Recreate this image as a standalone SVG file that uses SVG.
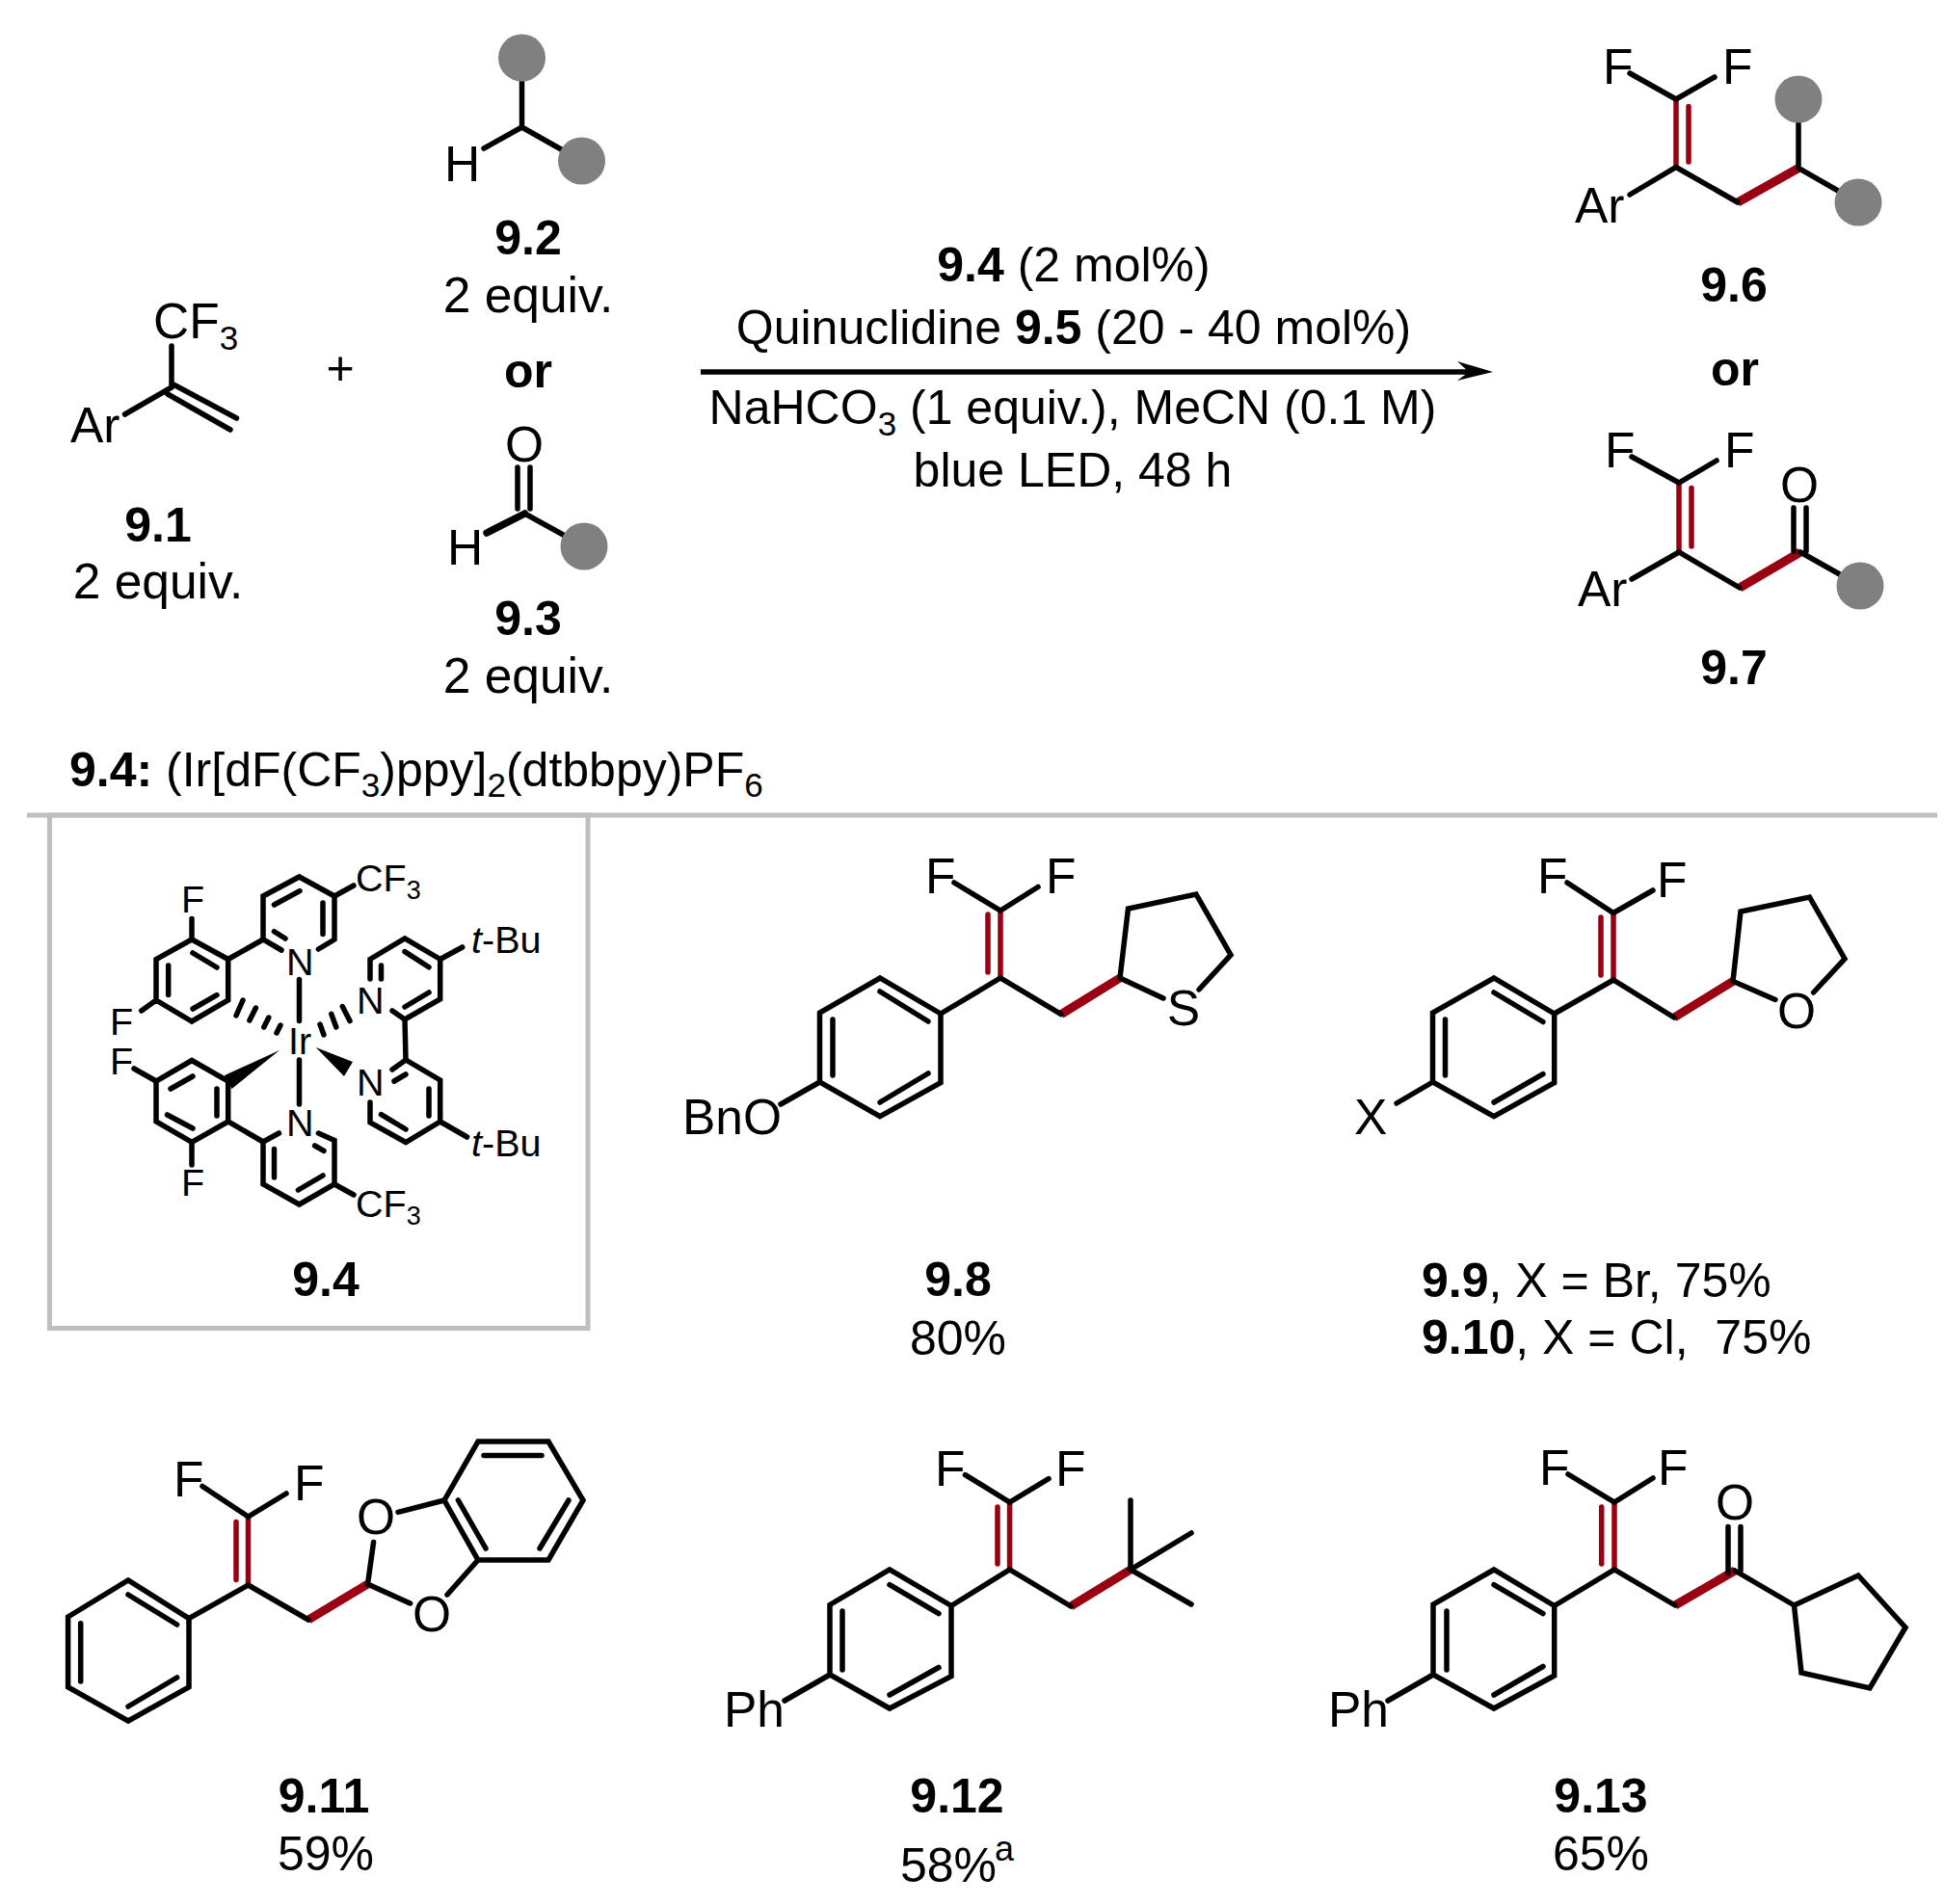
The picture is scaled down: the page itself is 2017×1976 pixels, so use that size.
<svg xmlns="http://www.w3.org/2000/svg" width="2017" height="1976" viewBox="0 0 2017 1976">
<style>
text{font-family:"Liberation Sans",Arial,sans-serif;font-size:50px;fill:#000}
.a{font-size:51.5px}
.e{font-size:51.5px}
.s{font-size:39.5px}
.m{text-anchor:middle}
.h{font-weight:bold}
.u{font-size:35px}
.us{font-size:27px}
.b{fill:none;stroke:#000;stroke-width:5.5;stroke-linecap:round;stroke-linejoin:miter}
.r{fill:none;stroke:#990011;stroke-width:5.5;stroke-linecap:round}
.t{fill:none;stroke:#990011;stroke-width:9;stroke-linecap:butt}
.d{fill:#808080}
.w{fill:#000}
.g{fill:none;stroke:#bfbfbf;stroke-width:5}
</style>
<rect width="2017" height="1976" fill="#fff"/>
<g id="connectors">
<path d="M727 386H1525" fill="none" stroke="#000" stroke-width="5.5"/>
<path class="w" d="M1549 386L1512 375L1524 386L1512 395Z"/>
<path class="g" d="M28 846H2010"/>
</g>
<g id="n91">
<path class="b" d="M178 359V402M129.500 430L178 402M178 398L245.500 434M174 409L239 446"/>
<text class="a" x="159" y="351">CF<tspan class="u" dy="12">3</tspan></text>
<text class="a" x="73" y="459">Ar</text>
<text x="164" y="562" class="m h">9.1</text>
<text x="164" y="621" class="m e">2 equiv.</text>
</g>
<text id="plus" x="353" y="399" class="m">+</text>
<g id="n92">
<path class="b" d="M541.500 60V132M502 154L541.500 132L603.500 167"/>
<circle class="d" cx="541.500" cy="60" r="24.500"/>
<circle class="d" cx="603.500" cy="167" r="24.500"/>
<text class="a" x="461" y="188">H</text>
<text x="548" y="264" class="m h">9.2</text>
<text x="548" y="324" class="m e">2 equiv.</text>
</g>
<text id="or1" x="548" y="402" class="m h">or</text>
<g id="n93">
<path class="b" d="M537 485V528M550 485V528M544.500 533L606 567"/>
<path class="b" style="stroke-width:7.500" d="M505 553L544.500 533"/>
<circle class="d" cx="606" cy="567" r="24.500"/>
<text x="544" y="479" class="m a">O</text>
<text class="a" x="464" y="586">H</text>
<text x="548" y="659" class="m h">9.3</text>
<text x="548" y="719" class="m e">2 equiv.</text>
</g>
<g id="conditions">
<text x="1114" y="292" class="m"><tspan class="h">9.4</tspan> (2 mol%)</text>
<text x="1114" y="357" class="m">Quinuclidine <tspan class="h">9.5</tspan> (20 - 40 mol%)</text>
<text x="1113" y="440" class="m">NaHCO<tspan class="u" dy="12">3</tspan><tspan dy="-12"> (1 equiv.), MeCN (0.1 M)</tspan></text>
<text x="1113" y="505" class="m">blue LED, 48 h</text>
</g>
<g id="n96">
<path class="r" d="M1739 103V173.500M1752 110.500V168"/>
<path class="t" d="M1803 210L1866 174.500"/>
<path class="b" d="M1691 76L1739 103L1779 80M1691 202L1739 173.500L1803 210M1866 103V174.500L1928 210"/>
<circle class="d" cx="1866" cy="103" r="24.500"/>
<circle class="d" cx="1928" cy="210" r="24.500"/>
<text class="a" x="1663" y="87">F</text>
<text class="a" x="1787" y="87">F</text>
<text class="a" x="1634" y="231">Ar</text>
<text x="1799" y="313" class="m h">9.6</text>
</g>
<text id="or2" x="1800" y="400" class="m h">or</text>
<g id="n97">
<path class="r" d="M1742 501V573M1755 506.500V567"/>
<path class="t" d="M1805 610L1868 573"/>
<path class="b" d="M1693 474L1742 501L1781 478M1693 601L1742 573L1805 610M1861 527V572M1874 527V572M1868 573L1930 608"/>
<circle class="d" cx="1930" cy="608" r="24.500"/>
<text class="a" x="1665" y="485">F</text>
<text class="a" x="1789" y="485">F</text>
<text class="a" x="1637" y="629">Ar</text>
<text x="1867" y="521" class="m a">O</text>
<text x="1799" y="710" class="m h">9.7</text>
</g>
<text id="header" x="72" y="816"><tspan class="h">9.4:</tspan> (Ir[dF(CF<tspan class="u" dy="11">3</tspan><tspan dy="-11">)ppy]</tspan><tspan class="u" dy="11">2</tspan><tspan dy="-11">(dtbbpy)PF</tspan><tspan class="u" dy="11">6</tspan></text>
<g id="n94">
<rect class="g" x="51.500" y="846" width="558.500" height="532.500"/>
<path class="b" d="M292 986L273 975V930L310.500 910L347 930V975L330.400 985M284.500 939L311 924.600M335 937V969.600M284.500 966.700L296 974"/>
<path class="b" d="M273 975L236.700 995.500L199 975L162 995.500V1038L199 1060L236.700 1038V995.500M200 989L225 1004M174.700 1002V1032.600M200 1047L225 1032.600M199 953.400V975M162 1038L146.700 1049M347 930L367 919"/>
<path class="b" d="M310.500 1016.400V1059.600M310.500 1100V1146"/>
<path class="b" d="M252 1038L245 1054M265.400 1046L258.900 1059M278.800 1056L273.800 1066M291 1064L287 1072M355.300 1044.500L363 1059.600M343.800 1052.400L348.800 1066M332 1063L336 1074"/>
<path class="w" d="M290 1090L233 1116L240.500 1130ZM327.700 1087L366 1102L357 1117Z"/>
<path class="b" d="M289.500 1176L273 1185V1229L310.500 1250L347 1229V1183.600L330.400 1176M284.500 1192.600V1222M309.400 1235L335 1220M326.600 1189L336 1194.400"/>
<path class="b" d="M273 1185L236.700 1164V1122L199 1100.500L162 1122V1164L199 1185.400L236.700 1164M177 1130L200 1117M225 1130V1158M173.500 1157L200 1171M162 1122L139 1109M199 1185.400V1209M347 1229L367 1240"/>
<path class="b" d="M384 1016V995.500L420 974L456.700 995.500V1037L420 1058L407 1049M395.500 1002V1016M420 987.600L445 1003.800M420 1045L445 1030M456.700 995.500L479.700 983M420 1058L421 1100"/>
<path class="b" d="M407 1110L421 1100L456.700 1121V1164L421 1185.500L384 1165V1144M445 1130V1158M395.500 1156.600L421 1172M409 1122L421 1115M456.700 1164L484.600 1180"/>
<text class="s" x="188" y="947">F</text>
<text class="s" x="114" y="1074">F</text>
<text class="s" x="114" y="1115">F</text>
<text class="s" x="188" y="1241">F</text>
<text class="s" x="369" y="925">CF<tspan class="us" dy="8">3</tspan></text>
<text class="s" x="369" y="1263">CF<tspan class="us" dy="8">3</tspan></text>
<text class="s" x="297" y="1012">N</text>
<text class="s" x="297" y="1179">N</text>
<text class="s" x="370" y="1052">N</text>
<text class="s" x="370" y="1137">N</text>
<text class="s" x="299" y="1094">Ir</text>
<text class="s" x="489" y="989"><tspan font-style="italic">t</tspan>-Bu</text>
<text class="s" x="489" y="1200"><tspan font-style="italic">t</tspan>-Bu</text>
<text x="338" y="1345" class="m h">9.4</text>
</g>
<g id="n98">
<path class="r" d="M1038 945V1015M1025 949V1009"/>
<path class="t" d="M1101 1052.600L1162 1015"/>
<path class="b" d="M990 916L1038 945L1077 920.500M976 1052L1038 1015L1101 1052.600"/>
<path class="b" d="M976 1052L913 1015L850.500 1051V1123L913 1158.600L976 1123.600ZM913 1029L963 1060M864 1058V1116M913 1144L963 1114M850.500 1123L810 1146"/>
<path class="b" d="M1207 1036L1162 1015L1170.500 943L1241 928L1277 991L1244 1027"/>
<text class="a" x="960" y="927">F</text>
<text class="a" x="1085" y="927">F</text>
<text class="a" x="708" y="1177">BnO</text>
<text x="1228" y="1064" class="m a">S</text>
<text x="994" y="1345" class="m h">9.8</text>
<text x="994" y="1406" class="m">80%</text>
</g>
<g id="n99">
<path class="r" d="M1674 947.500V1017M1661 952V1012"/>
<path class="t" d="M1737 1056L1798 1018.400"/>
<path class="b" d="M1626 916L1674 947.500L1715 924M1612.700 1052L1674 1017L1737 1056"/>
<path class="b" d="M1612.700 1052L1550 1015L1486.500 1051V1123L1550 1158.600L1612.700 1123.600ZM1550 1030L1601 1060.500M1499.500 1058V1116M1550 1144L1601 1114.600M1486.500 1123L1449 1145"/>
<path class="b" d="M1842 1037.500L1798 1018.400L1806 946L1877.500 931L1914 995L1881.600 1030"/>
<text class="a" x="1595" y="927">F</text>
<text class="a" x="1719" y="931">F</text>
<text class="a" x="1405" y="1177">X</text>
<text x="1864" y="1067" class="m a">O</text>
<text x="1475" y="1346"><tspan class="h">9.9</tspan>, X = Br, 75%</text>
<text x="1475" y="1405" xml:space="preserve"><tspan class="h">9.10</tspan>, X = Cl,  75%</text>
</g>
<g id="n911">
<path class="r" d="M257.500 1574V1645M245 1579.500V1639.500"/>
<path class="t" d="M320 1681L381.500 1644"/>
<path class="b" d="M210 1542.500L257.500 1574L297 1550M196 1679.600L257.500 1645L320 1681"/>
<path class="b" d="M196 1679.600L133 1640L70.600 1678V1751L133 1786L196 1751ZM133 1655L183.600 1686M83.700 1684.700V1745M133 1771L183.600 1741"/>
<path class="b" d="M387.600 1600.400L381.500 1644L425.600 1664M413 1569.400L461 1557M464 1655L496 1619"/>
<path class="b" d="M461 1557L496 1496H569L605 1557L569 1619H496ZM502 1510.400H562M475.400 1557L504 1607M590 1557L560 1607"/>
<text class="a" x="180" y="1553">F</text>
<text class="a" x="305" y="1557">F</text>
<text x="390" y="1592" class="m a">O</text>
<text x="448" y="1693" class="m a">O</text>
<text x="336" y="1881" class="m h">9.11</text>
<text x="338" y="1941" class="m">59%</text>
</g>
<g id="n912">
<path class="r" d="M1047.600 1559V1629M1035 1564V1623"/>
<path class="t" d="M1111 1667L1173 1629"/>
<path class="b" d="M1001.500 1530.700L1047.600 1559L1088 1534.700M987 1666.500L1047.600 1629L1111 1667"/>
<path class="b" d="M987 1666.500L923 1629L861 1665.500V1738L923 1773L987 1739.600ZM923 1644.600L974 1674.600M874 1672V1733M923 1759L974 1730.500M861 1738L814 1765"/>
<path class="b" d="M1173 1557V1629M1236 1591L1173 1629L1236 1665"/>
<text class="a" x="970" y="1542">F</text>
<text class="a" x="1095" y="1542">F</text>
<text class="a" x="751" y="1792">Ph</text>
<text x="993" y="1881" class="m h">9.12</text>
<text x="934" y="1953">58%</text>
<text x="1032" y="1931" style="font-size:36px">a</text>
</g>
<g id="n913">
<path class="r" d="M1675 1559V1629M1661.700 1564V1623"/>
<path class="t" d="M1738 1666L1800 1630"/>
<path class="b" d="M1627 1530L1675 1559L1715 1534M1612.700 1666.500L1675 1629L1738 1666"/>
<path class="b" d="M1612.700 1666.500L1550 1629L1487 1665V1738L1550 1773L1612.700 1739ZM1550 1644.600L1601 1674.600M1501 1672V1733M1550 1759L1601 1729.500M1487 1738L1440 1765"/>
<path class="b" d="M1793 1584.600V1633M1806 1584.600V1630M1800 1630L1861.500 1666M1861.500 1666L1928 1635L1977 1689L1940 1752L1869 1736Z"/>
<text class="a" x="1597" y="1541">F</text>
<text class="a" x="1720" y="1541">F</text>
<text class="a" x="1378" y="1792">Ph</text>
<text x="1800" y="1577" class="m a">O</text>
<text x="1661" y="1881" class="m h">9.13</text>
<text x="1661" y="1941" class="m">65%</text>
</g>
</svg>
